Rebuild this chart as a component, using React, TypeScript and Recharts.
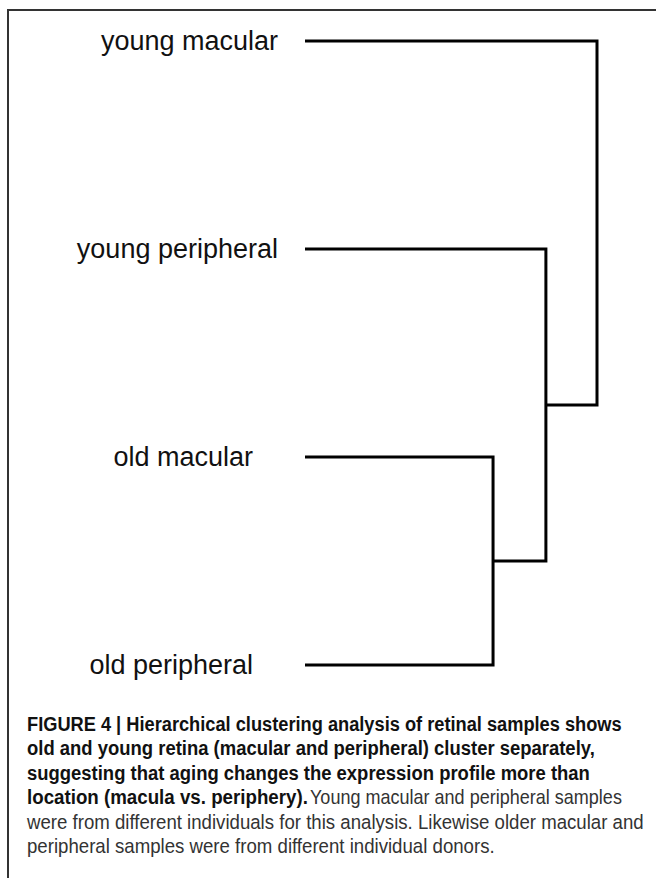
import React, { useLayoutEffect, useRef, useState } from 'react';
import { ScatterChart, Scatter, XAxis, YAxis } from 'recharts';

// leaves, top to bottom
const leafLabels = ['young macular', 'young peripheral', 'old macular', 'old peripheral'];

// linkage, scipy style: node ids 0-3 are leaves, 4+ are merged clusters
const mergeLeft = [2, 1, 0];
const mergeRight = [3, 4, 5];
const mergeHeight = [0.644, 0.825, 1.0];

const captionBold = [
  'FIGURE 4 | Hierarchical clustering analysis of retinal samples shows',
  'old and young retina (macular and peripheral) cluster separately,',
  'suggesting that aging changes the expression profile more than',
  'location (macula vs. periphery).',
];
const captionPlain = [
  'Young macular and peripheral samples',
  'were from different individuals for this analysis. Likewise older macular and',
  'peripheral samples were from different individual donors.',
];

type Pt = { x: number; y: number };

// each merge becomes one bracket: child A -> up to height -> across -> down to child B
function buildLinks(): Pt[][] {
  const nodes: Pt[] = leafLabels.map((_, i) => ({ x: 0, y: i }));
  const links: Pt[][] = [];
  mergeHeight.forEach((h, i) => {
    const a = nodes[mergeLeft[i]];
    const b = nodes[mergeRight[i]];
    links.push([
      { x: a.x, y: a.y },
      { x: h, y: a.y },
      { x: h, y: b.y },
      { x: b.x, y: b.y },
    ]);
    nodes.push({ x: h, y: (a.y + b.y) / 2 });
  });
  return links;
}

const links = buildLinks();

const LeafTick = (props: any) => {
  const { y, payload } = props;
  const idx = payload.value as number;
  // young labels sit a bit further right than the old ones
  const right = idx < 2 ? 278 : 253;
  return (
    <text
      x={right}
      y={y}
      dy="0.33em"
      textAnchor="end"
      fontSize={27}
      fontFamily="'Liberation Sans', Arial, sans-serif"
      fill="#111"
    >
      {leafLabels[idx]}
    </text>
  );
};

const Empty = () => <g />;

// caption line squeezed horizontally to the condensed width of the original
function CapLine({ x, y, width, bold, children }: any) {
  const ref = useRef<SVGTextElement>(null);
  const [k, setK] = useState(1);
  useLayoutEffect(() => {
    if (ref.current) {
      const w = ref.current.getComputedTextLength();
      if (w > 0) setK(width / w);
    }
  }, [width]);
  return (
    <text
      ref={ref}
      x={0}
      y={0}
      transform={`translate(${x},${y}) scale(${k},1)`}
      fontFamily="'Liberation Sans', Arial, sans-serif"
      fontWeight={bold ? 'bold' : 'normal'}
      fontSize={20.5}
      fill={bold ? '#111' : '#333'}
    >
      {children}
    </text>
  );
}

export default function App() {
  const lineY = [731, 755.4, 779.8, 804.2, 828.6, 853];
  const boldLen = [595, 568, 563, 281];
  const plainLen = [312, 617, 468];

  return (
    <div
      style={{
        position: 'absolute',
        left: 0,
        top: 0,
        width: 656,
        height: 878,
        background: '#fff',
        overflow: 'hidden',
      }}
    >
      <div
        style={{
          position: 'absolute',
          left: 7,
          top: 9,
          width: 660,
          height: 880,
          borderTop: '2px solid #333',
          borderLeft: '2px solid #333',
          boxSizing: 'border-box',
        }}
      />
      <div style={{ position: 'absolute', left: 0, top: 0 }}>
        <ScatterChart width={656} height={700} margin={{ top: 41, right: 59, bottom: 35, left: 0 }}>
          <XAxis type="number" dataKey="x" domain={[0, 1]} hide />
          <YAxis
            type="number"
            dataKey="y"
            domain={[0, 3]}
            ticks={[0, 1, 2, 3]}
            reversed
            width={305}
            axisLine={false}
            tickLine={false}
            tick={<LeafTick />}
            interval={0}
          />
          {links.map((pts, i) => (
            <Scatter
              key={i}
              data={pts}
              line={{ stroke: '#000', strokeWidth: 3, strokeLinejoin: 'miter' }}
              lineType="joint"
              shape={<Empty />}
              isAnimationActive={false}
            />
          ))}
        </ScatterChart>
      </div>
      <svg
        width={656}
        height={878}
        style={{ position: 'absolute', left: 0, top: 0, pointerEvents: 'none' }}
      >
        {captionBold.map((t, i) => (
          <CapLine key={'b' + i} x={27} y={lineY[i]} width={boldLen[i]} bold>
            {t}
          </CapLine>
        ))}
        {captionPlain.map((t, i) => (
          <CapLine key={'p' + i} x={i === 0 ? 310 : 27} y={lineY[i + 3]} width={plainLen[i]}>
            {t}
          </CapLine>
        ))}
      </svg>
    </div>
  );
}
